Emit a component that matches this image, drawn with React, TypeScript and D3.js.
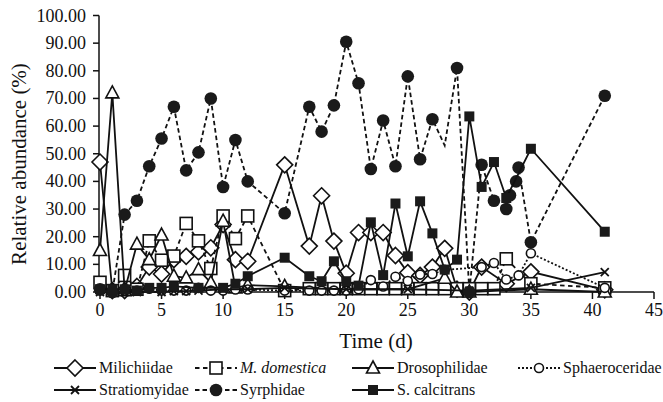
import React from "react";
import * as d3 from "d3";

const xTicks = [0, 5, 10, 15, 20, 25, 30, 35, 40, 45];
const yTicks = [0, 10, 20, 30, 40, 50, 60, 70, 80, 90, 100];

const miliDays = [0,1,2,3,4,5,6,7,8,9,10,11,12,15,17,18,19,20,21,22,23,24,25,26,27,28,29,30,31,33,35,41];
const miliVals = [47,0.5,0.5,2,9,6.5,11.7,12.9,14.5,16,24.4,11.7,11.1,46,16.6,34.8,18.4,6.8,21.5,21.5,21.5,13.2,7,6,9,15.8,1,0,9,3,7.3,0.8];

const mdomDays = [0,1,2,3,4,5,6,7,8,9,10,11,12,15,17,18,19,20,21,22,23,24,25,26,27,28,29,30,31,32,33,35,41];
const mdomVals = [3.5,0.5,6,1,18.5,11.5,13,24.8,18.5,8.5,27.5,19.3,27.5,0.5,1.2,1.2,1.2,1.2,1.2,1.2,1.2,1.2,1.2,1.2,1.2,1.2,1.2,1.2,1.2,1.2,12,3,1.5];

const drosDays = [0,1,2,3,4,5,6,7,8,9,10,11,12,15,20,25,28,29,30,35,41];
const drosVals = [15,72,0.5,17.3,11.7,20.6,5.7,5.1,8.1,3.4,25.6,1.5,2.5,2,1,1,5,0,0,1,0];

const sphaDays = [0,1,2,3,4,5,6,7,8,9,10,11,12,15,17,18,19,20,21,22,23,24,25,26,27,28,31,32,33,34,35,41];
const sphaVals = [0.5,0.5,0.5,0.5,1.2,0.5,0.5,0.5,1.5,0.5,0.5,0.9,0.9,0.5,0.5,0.5,0.5,0.5,1,4.3,2,5.5,4,6.3,6.5,8,9,10.5,4.5,6,14,1.5];

const stratDays = [0,1,2,3,5,6,7,8,10,12,15,20,25,30,35,41];
const stratVals = [0,0,0,0,0,0.3,0.3,0.5,1,1,1.5,1,1,0.5,1.5,7.2];

const syrpDays = [0,1,2,3,4,5,6,7,8,9,10,11,12,15,17,18,19,20,21,22,23,24,25,26,27,28,29,30,31,32,33,33.3,33.8,34,35,41];
const syrpVals = [1,0,28,33,45.5,55.5,67,44,50.5,70,38,55,40,28.5,67,58,67.5,90.5,75.5,44.5,62,45.5,78,48,62.5,53,81,0,46,33,30,35,40,45,18,71];
const syrpNoMarker = [28];

const scalDays = [0,1,2,3,4,5,6,8,10,11,12,15,17,18,19,20,21,22,23,24,25,26,27,28,29,30,31,32,33,35,41];
const scalVals = [1,1,1,0.5,1.5,1.5,2,1.5,1.5,3,5.7,12.4,5.7,3.9,11.1,3.9,2.3,25.2,6.1,32,12.9,32.8,21.2,8.1,11.7,63.5,38,47,34,51.8,21.8];

type Shape = "diamond" | "square" | "triangle" | "ocircle" | "x" | "fcircle" | "fsquare";
interface Series { name: string; italic?: boolean; days: number[]; vals: number[]; shape: Shape; dash?: string; noMarker?: number[] }

const series: Series[] = [
  { name: "Milichiidae", days: miliDays, vals: miliVals, shape: "diamond" },
  { name: "M. domestica", italic: true, days: mdomDays, vals: mdomVals, shape: "square", dash: "4.5,3.5" },
  { name: "Drosophilidae", days: drosDays, vals: drosVals, shape: "triangle" },
  { name: "Sphaeroceridae", days: sphaDays, vals: sphaVals, shape: "ocircle", dash: "2,2" },
  { name: "Stratiomyidae", days: stratDays, vals: stratVals, shape: "x" },
  { name: "Syrphidae", days: syrpDays, vals: syrpVals, shape: "fcircle", dash: "4.5,3", noMarker: syrpNoMarker },
  { name: "S. calcitrans", days: scalDays, vals: scalVals, shape: "fsquare" },
];

const legendPos = [
  { x: 54, y: 368 }, { x: 195, y: 368 }, { x: 352, y: 368 }, { x: 518, y: 368 },
  { x: 54, y: 390 }, { x: 195, y: 390 }, { x: 352, y: 390 },
];

const INK = "#111";
const tf = (size: number, italic = false): React.CSSProperties => ({
  fontFamily: "Liberation Serif",
  fontSize: size,
  fontStyle: italic ? "italic" : "normal",
});

function Marker({ shape, cx, cy }: { shape: Shape; cx: number; cy: number }) {
  const sw = 1.6;
  switch (shape) {
    case "diamond": {
      const r = 8;
      return <path d={`M${cx},${cy - r}L${cx + r},${cy}L${cx},${cy + r}L${cx - r},${cy}Z`} fill="white" stroke={INK} strokeWidth={sw} />;
    }
    case "square": {
      const s = 12;
      return <rect x={cx - s / 2} y={cy - s / 2} width={s} height={s} fill="white" stroke={INK} strokeWidth={sw} />;
    }
    case "triangle":
      return <path d={`M${cx},${cy - 7}L${cx + 6.5},${cy + 5}L${cx - 6.5},${cy + 5}Z`} fill="white" stroke={INK} strokeWidth={sw} />;
    case "ocircle":
      return <circle cx={cx} cy={cy} r={4.5} fill="white" stroke={INK} strokeWidth={sw} />;
    case "x": {
      const r = 4;
      return <path d={`M${cx - r},${cy - r}L${cx + r},${cy + r}M${cx - r},${cy + r}L${cx + r},${cy - r}`} stroke={INK} strokeWidth={1.8} />;
    }
    case "fcircle":
      return <circle cx={cx} cy={cy} r={6.3} fill="#1a1a1a" />;
    case "fsquare": {
      const s = 10;
      return <rect x={cx - s / 2} y={cy - s / 2} width={s} height={s} fill="#1a1a1a" />;
    }
  }
  return null;
}

export default function App() {
  const x = d3.scaleLinear().domain([0, 45]).range([100, 654]);
  const y = d3.scaleLinear().domain([0, 100]).range([292, 15.5]);
  const line = d3.line<[number, number]>().x((d) => x(d[0])).y((d) => y(d[1]));

  return (
    <svg width={663} height={402} style={{ position: "absolute", left: 0, top: 0, background: "white" }}>
      <g stroke={INK} strokeWidth={1.5}>
        <line x1={x(0) - 1} x2={x(0) - 1} y1={y(100)} y2={y(0)} />
        <line x1={x(0) - 1} x2={x(45)} y1={y(0)} y2={y(0)} />
        {yTicks.map((t) => <line key={"yt" + t} x1={x(0) - 7} x2={x(0) - 1} y1={y(t)} y2={y(t)} />)}
        {xTicks.map((t) => <line key={"xt" + t} x1={x(t)} x2={x(t)} y1={y(0)} y2={y(0) + 7} />)}
      </g>
      {yTicks.map((t) => (
        <text key={"yl" + t} x={86} y={y(t) + 6} textAnchor="end" fill={INK} style={tf(18)}>{t.toFixed(2)}</text>
      ))}
      {xTicks.map((t) => (
        <text key={"xl" + t} x={x(t)} y={316} textAnchor="middle" fill={INK} style={tf(18)}>{t}</text>
      ))}
      <text fill={INK} textAnchor="middle" transform="translate(26,164) rotate(-90)" style={tf(21)}>Relative abundance (%)</text>
      <text fill={INK} textAnchor="middle" x={376} y={348} style={tf(21)}>Time (d)</text>

      {series.map((s) => {
        const pts: [number, number][] = s.days.map((d, i) => [d, s.vals[i]]);
        return (
          <g key={s.name}>
            <path d={line(pts) || ""} fill="none" stroke={INK} strokeWidth={1.8} strokeDasharray={s.dash} />
            {pts.filter((p) => !(s.noMarker && s.noMarker.includes(p[0]))).map((p, i) => (
              <Marker key={i} shape={s.shape} cx={x(p[0])} cy={y(p[1])} />
            ))}
          </g>
        );
      })}

      {series.map((s, i) => {
        const pos = legendPos[i];
        return (
          <g key={"lg" + s.name}>
            <line x1={pos.x} x2={pos.x + 42} y1={pos.y} y2={pos.y} stroke={INK} strokeWidth={1.8} strokeDasharray={s.dash} />
            <Marker shape={s.shape} cx={pos.x + 21} cy={pos.y} />
            <text x={pos.x + 45} y={pos.y + 5} fill={INK} style={tf(16, s.italic)}>{s.name}</text>
          </g>
        );
      })}
    </svg>
  );
}
